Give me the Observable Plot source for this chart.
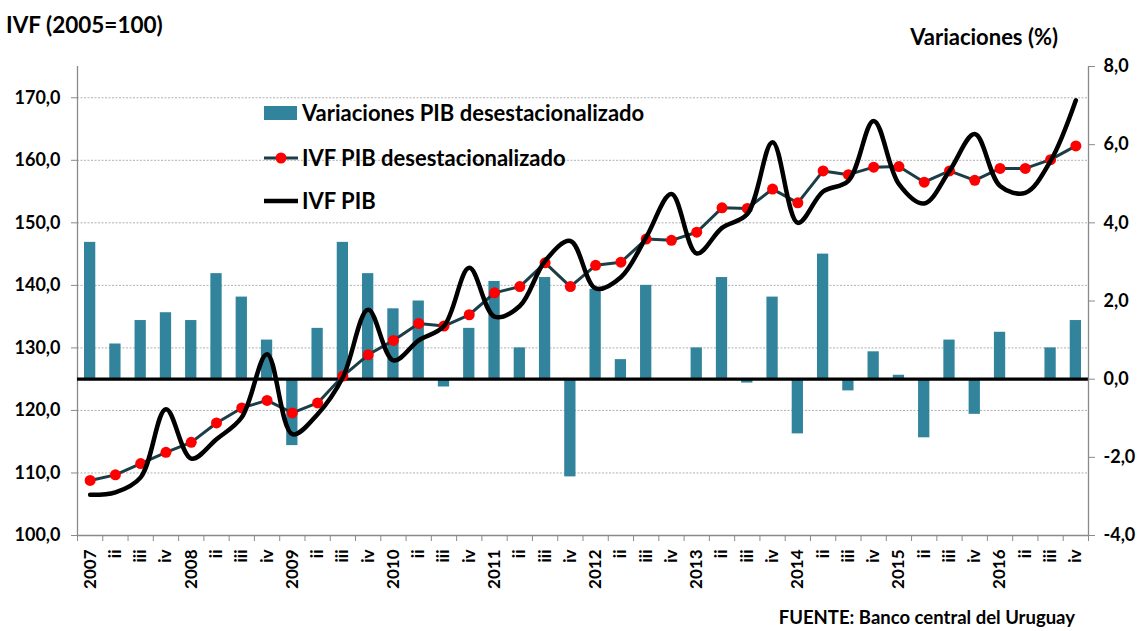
<!DOCTYPE html>
<html>
<head>
<meta charset="utf-8">
<script src="https://cdn.jsdelivr.net/npm/d3@7"></script>
<script src="https://cdn.jsdelivr.net/npm/@observablehq/plot@0.6"></script>
<style>
  html, body { margin: 0; padding: 0; background: #fff; }
  #wrap { position: relative; width: 1143px; height: 631px; overflow: hidden; font-family: Lato, "Open Sans", sans-serif; font-weight: bold; color: #000; }
  #wrap .layer { position: absolute; left: 0; top: 0; }
  .txt { position: absolute; white-space: nowrap; line-height: 1; }
  .leg { position: absolute; left: 264px; height: 26px; display: flex; align-items: center; font-size: 22px; line-height: 26px; white-space: nowrap; }
  .leg svg { margin-right: 4px; }
</style>
</head>
<body>
<div id="wrap"></div>
<script>
// ---- data ----
const quarterLabels = [
  "2007","ii","iii","iv","2008","ii","iii","iv","2009","ii","iii","iv",
  "2010","ii","iii","iv","2011","ii","iii","iv","2012","ii","iii","iv",
  "2013","ii","iii","iv","2014","ii","iii","iv","2015","ii","iii","iv",
  "2016","ii","iii","iv"
];
// Variaciones PIB desestacionalizado (%), right axis
const variaciones = [
  3.5, 0.9, 1.5, 1.7,  1.5, 2.7, 2.1, 1.0,  -1.7, 1.3, 3.5, 2.7,
  1.8, 2.0, -0.2, 1.3,  2.5, 0.8, 2.6, -2.5,  2.3, 0.5, 2.4, 0.0,
  0.8, 2.6, -0.1, 2.1,  -1.4, 3.2, -0.3, 0.7,  0.1, -1.5, 1.0, -0.9,
  1.2, 0.0, 0.8, 1.5
];
// IVF PIB desestacionalizado, left axis
const ivfDesest = [
  108.8, 109.7, 111.5, 113.3,  114.9, 118.0, 120.4, 121.6,  119.6, 121.2, 125.5, 128.9,
  131.2, 133.9, 133.5, 135.3,  138.8, 139.8, 143.6, 139.8,  143.2, 143.7, 147.4, 147.2,
  148.5, 152.4, 152.3, 155.4,  153.2, 158.3, 157.7, 158.9,  159.0, 156.5, 158.3, 156.8,
  158.7, 158.7, 160.1, 162.3
];
// IVF PIB (original series), left axis
const ivfPib = [
  106.5, 106.9, 109.3, 120.2,  112.3, 115.4, 118.9, 129.0,  116.2, 119.4, 125.3, 136.1,
  128.0, 131.2, 133.5, 142.8,  135.0, 136.7, 143.9, 147.1,  139.5, 141.3, 147.7, 154.6,
  145.1, 149.2, 151.4, 162.9,  150.0, 155.0, 156.7, 166.3,  156.2, 153.1, 158.3, 164.2,
  155.9, 154.8, 159.9, 169.6
];
const leftTicks = [100, 110, 120, 130, 140, 150, 160, 170];
const rightTicks = [-4, -2, 0, 2, 4, 6, 8];
const seriesNames = ["Variaciones PIB desestacionalizado", "IVF PIB desestacionalizado", "IVF PIB"];
const titleLeft = "IVF (2005=100)";
const titleRight = "Variaciones (%)";
const sourceText = "FUENTE: Banco central del Uruguay";

// ---- styles ----
const barColor = "#31849b";
const dotLineColor = "#1c3d45";
const axisGray = "#8a8a8a";
const fmt = d => d.toFixed(1).replace(".", ",").replace("\u2212", "-");

const rows = quarterLabels.map((label, i) => ({
  i, label, x1: i, x2: i + 1, xc: i + 0.5,
  v: variaciones[i], des: ivfDesest[i], pib: ivfPib[i]
}));

const common = {
  width: 1143, height: 631,
  marginLeft: 77, marginRight: 55, marginTop: 66, marginBottom: 96,
  x: {domain: [0, quarterLabels.length], axis: null},
  style: {background: "transparent", fontFamily: "Lato, 'Open Sans', sans-serif", fontWeight: "bold", fontSize: "18px", color: "#000", overflow: "visible"}
};

// Layer 1: left scale grid and axes
const layer1 = Plot.plot({
  ...common,
  y: {domain: [100, 175], axis: null},
  marks: [
    Plot.ruleY(leftTicks.filter(d => d > 100), {stroke: "#b0b0b0", strokeWidth: 1, strokeDasharray: "2,1.5"}),
    Plot.axisY({anchor: "left", ticks: leftTicks, tickFormat: fmt, tickSize: 6, tickPadding: 11, label: null, stroke: axisGray, fill: "#000", fontSize: 18}),
    Plot.ruleX([0], {stroke: axisGray, strokeWidth: 1.3}),
    Plot.ruleY([100], {stroke: axisGray, strokeWidth: 1.3}),
    Plot.axisX({ticks: d3.range(0, quarterLabels.length + 1), tickFormat: () => "", tickSize: 6, stroke: axisGray, label: null}),
    Plot.axisX(rows.map(d => d.xc), {tickFormat: d => quarterLabels[Math.floor(d)], tickRotate: -90, tickSize: 0, tickPadding: 14, label: null, fill: "#000", fontSize: 17})
  ]
});

// Layer 2: right scale bars, zero rule, right axis
const layer2 = Plot.plot({
  ...common,
  y: {domain: [-4, 8], axis: null},
  marks: [
    Plot.rectY(rows, {x1: "x1", x2: "x2", y1: 0, y2: "v", insetLeft: 7, insetRight: 7, fill: barColor}),
    Plot.ruleY([0], {stroke: "#000", strokeWidth: 3.2}),
    Plot.ruleX([quarterLabels.length], {stroke: axisGray, strokeWidth: 1.3}),
    Plot.axisY({anchor: "right", ticks: rightTicks, tickFormat: fmt, tickSize: 6, tickPadding: 9, label: null, stroke: axisGray, fill: "#000", fontSize: 18})
  ]
});

// Layer 3: lines
const layer3 = Plot.plot({
  ...common,
  y: {domain: [100, 175], axis: null},
  marks: [
    Plot.line(rows, {x: "xc", y: "des", stroke: dotLineColor, strokeWidth: 3}),
    Plot.dot(rows, {x: "xc", y: "des", r: 5.5, fill: "#ff0000", stroke: "none"}),
    Plot.line(rows, {x: "xc", y: "pib", stroke: "#000", strokeWidth: 4.5, curve: "catmull-rom"})
  ]
});

const wrap = document.getElementById("wrap");
[layer1, layer2, layer3].forEach(s => { s.classList.add("layer"); wrap.appendChild(s); });

function addText(text, css) {
  const el = document.createElement("div");
  el.className = "txt";
  el.textContent = text;
  Object.assign(el.style, css);
  wrap.appendChild(el);
}
addText(titleLeft, {left: "6px", top: "14px", fontSize: "22.5px"});
addText(titleRight, {right: "85px", top: "26px", fontSize: "22px"});
addText(sourceText, {right: "68px", top: "608px", fontSize: "18.5px"});

// Legend
const legendTops = [100, 145, 188];
seriesNames.forEach((name, k) => {
  const row = document.createElement("div");
  row.className = "leg";
  row.style.top = legendTops[k] + "px";
  let sw;
  if (k === 0) sw = `<svg width="34" height="20"><rect x="0" y="3" width="33" height="14" fill="${barColor}"/></svg>`;
  else if (k === 1) sw = `<svg width="34" height="20"><line x1="0" x2="34" y1="10" y2="10" stroke="${dotLineColor}" stroke-width="3"/><circle cx="17" cy="10" r="5.5" fill="#ff0000"/></svg>`;
  else sw = `<svg width="34" height="20"><line x1="0" x2="34" y1="10" y2="10" stroke="#000" stroke-width="4.5"/></svg>`;
  row.innerHTML = sw + `<span>${name}</span>`;
  wrap.appendChild(row);
});
</script>
</body>
</html>
